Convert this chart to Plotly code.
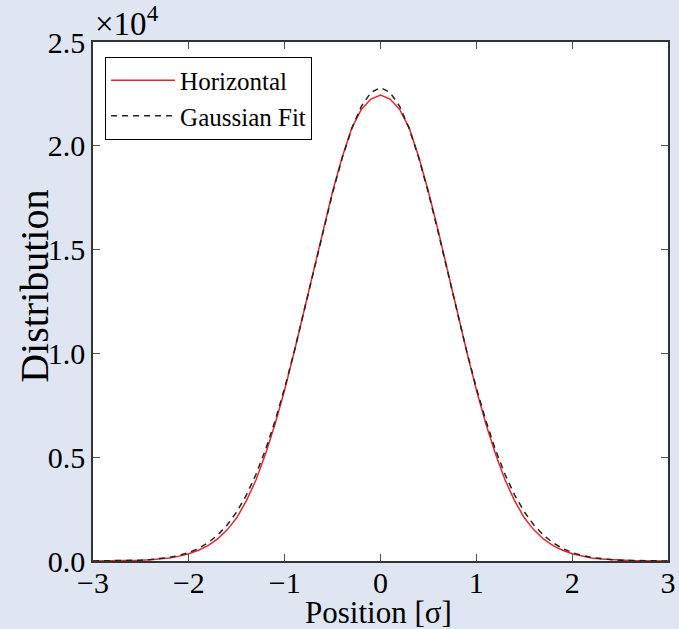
import plotly.graph_objects as go

# Position in units of sigma
positions = [-3.0, -2.9, -2.8, -2.7, -2.6, -2.5, -2.4, -2.3, -2.2, -2.1,
             -2.0, -1.9, -1.8, -1.7, -1.6, -1.5, -1.4, -1.3, -1.2, -1.1,
             -1.0, -0.9, -0.8, -0.7, -0.6, -0.5, -0.4, -0.3, -0.2, -0.1,
             0.0, 0.1, 0.2, 0.3, 0.4, 0.5, 0.6, 0.7, 0.8, 0.9,
             1.0, 1.1, 1.2, 1.3, 1.4, 1.5, 1.6, 1.7, 1.8, 1.9,
             2.0, 2.1, 2.2, 2.3, 2.4, 2.5, 2.6, 2.7, 2.8, 2.9, 3.0]

# Measured horizontal distribution (counts)
horizontal = [3, 5, 9, 15, 24, 38, 60, 95, 150, 235,
              352, 520, 740, 1060, 1500, 2080, 2900, 3900, 5150, 6600,
              8250, 10080, 12000, 13980, 15950, 17800, 19450, 20850, 21750, 22250,
              22440, 22250, 21750, 20850, 19450, 17800, 15950, 13980, 12000, 10080,
              8250, 6600, 5150, 3900, 2900, 2080, 1500, 1060, 740, 520,
              352, 235, 150, 95, 60, 38, 24, 15, 9, 5, 3]

# Gaussian fit (counts)
gaussian_fit = [3, 5, 9, 15, 25, 42, 69, 111, 175, 270,
                408, 604, 876, 1245, 1736, 2371, 3174, 4165, 5356, 6750,
                8338, 10094, 11976, 13927, 15873, 17730, 19410, 20827, 21901, 22572,
                22800, 22572, 21901, 20827, 19410, 17730, 15873, 13927, 11976, 10094,
                8338, 6750, 5356, 4165, 3174, 2371, 1736, 1245, 876, 604,
                408, 270, 175, 111, 69, 42, 25, 15, 9, 5, 3]

x_tickvals = [-3, -2, -1, 0, 1, 2, 3]
y_tickvals = [0, 5000, 10000, 15000, 20000, 25000]
y_ticktext = ["0.0", "0.5", "1.0", "1.5", "2.0", "2.5"]

SERIF = "Liberation Serif, Times New Roman, serif"
BG = "#dfe6f1"

fig = go.Figure()
fig.add_trace(go.Scatter(x=positions, y=horizontal, mode="lines", name="Horizontal",
                         line=dict(color="#e8262b", width=1.5)))
fig.add_trace(go.Scatter(x=positions, y=gaussian_fit, mode="lines", name="Gaussian Fit",
                         line=dict(color="#222222", width=1.5, dash="6px,5px")))

axis_common = dict(showline=True, linecolor="#333333", linewidth=1.5, mirror="ticks",
                   ticks="inside", ticklen=7, tickwidth=1, tickcolor="#555555",
                   showgrid=False, zeroline=False, automargin=False,
                   tickfont=dict(family=SERIF, size=30, color="black"))

fig.update_layout(
    width=679, height=629,
    paper_bgcolor=BG, plot_bgcolor="white",
    margin=dict(l=93, r=11, t=42, b=68),
    font=dict(family=SERIF, color="black"),
    showlegend=True,
    legend=dict(x=0.021, y=0.972, xanchor="left", yanchor="top",
                bgcolor="white", bordercolor="black", borderwidth=1,
                font=dict(family=SERIF, size=25, color="black"),
                itemwidth=64),
    xaxis=dict(range=[-3, 3], tickvals=x_tickvals, ticklabelstandoff=-6,
               **axis_common),
    yaxis=dict(range=[0, 25000], tickvals=y_tickvals, ticktext=y_ticktext,
               ticklabelstandoff=0, **axis_common),
    annotations=[
        dict(text="×10<sup>4</sup>", xref="paper", yref="paper", x=0, y=1,
             xanchor="left", yanchor="bottom", showarrow=False, yshift=-2,
             font=dict(family=SERIF, size=33, color="black")),
        dict(text="Position [σ]", xref="paper", yref="paper", x=0.497, y=-0.099,
             xanchor="center", yanchor="middle", showarrow=False,
             font=dict(family=SERIF, size=31, color="black")),
        dict(text="Distribution", xref="paper", yref="paper", x=-0.101, y=0.53,
             xanchor="center", yanchor="middle", showarrow=False, textangle=-90,
             font=dict(family=SERIF, size=40, color="black")),
    ],
)

fig.write_html("out.html")
